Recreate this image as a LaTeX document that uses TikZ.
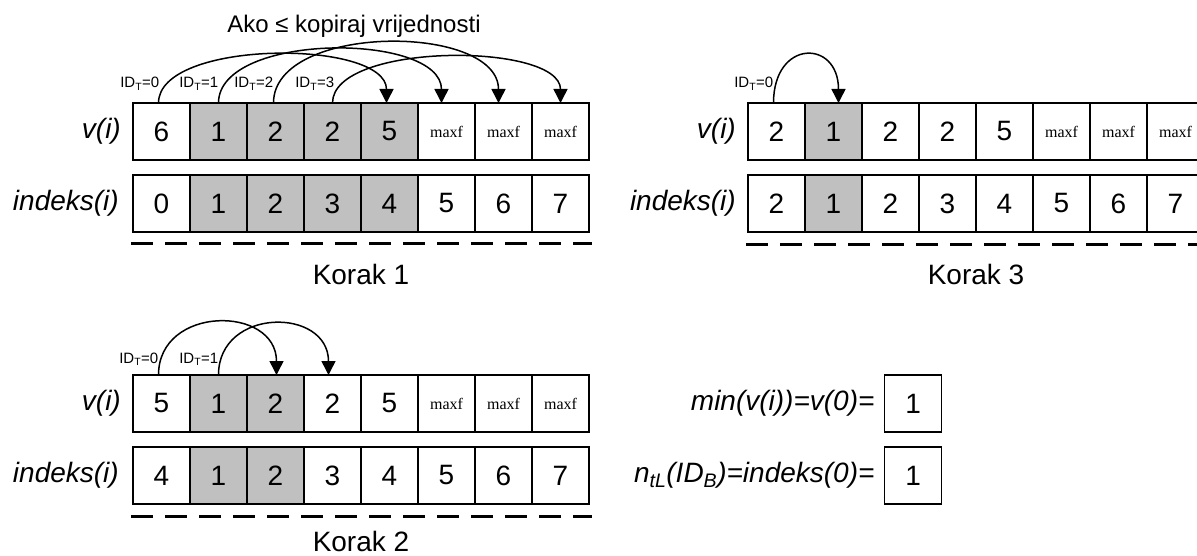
\documentclass[tikz,border=0pt]{standalone}
\usepackage{fontspec}
\setmainfont{Liberation Sans}
\newfontfamily\maxffont{Liberation Serif}
\usetikzlibrary{arrows.meta}
\definecolor{cellgray}{RGB}{192,192,192}
\newcommand\mf{{\maxffont\fontsize{16}{18}\selectfont maxf}}
\newcommand\cellrow[4]{%
  \foreach \s/\t [count=\k from 0] in {#4} {
    \node[\s] (#1\k) at ({#2+57*\k}, #3) {\t};
  }}
\begin{document}
\begin{tikzpicture}[x=1pt,y=-1pt,
  cell/.style={draw, line width=1.3pt, minimum width=57pt, minimum height=57pt,
    inner sep=0pt, outer sep=0pt, anchor=north west, font=\fontsize{28}{30}\selectfont},
  gcell/.style={cell, fill=cellgray},
  rowlab/.style={font=\fontsize{28}{30}\selectfont\itshape, inner sep=0pt, anchor=east},
  korak/.style={font=\fontsize{28}{30}\selectfont, inner sep=0pt, anchor=base},
  idlab/.style={font=\fontsize{15}{17}\selectfont, inner sep=0pt, anchor=base east},
  arcline/.style={line width=1.5pt, -{Triangle[width=14pt,length=14pt]}},
  dashline/.style={line width=3pt, dash pattern=on 22pt off 12pt}
]
\useasboundingbox (0,0) rectangle (1197,556);

% ---------- Korak 1 ----------
\cellrow{s1v}{133}{103}{cell/6,gcell/1,gcell/2,gcell/2,gcell/5,cell/\mf,cell/\mf,cell/\mf}
\cellrow{s1i}{133}{175}{cell/0,gcell/1,gcell/2,gcell/3,gcell/4,cell/5,cell/6,cell/7}
\node[rowlab] (s1vl) at ([xshift=-12pt]s1v0.west) {v(i)};
\node[rowlab] (s1il) at ([xshift=-14pt]s1i0.west) {indeks(i)};
\draw[dashline] ([shift={(-2,12)}]s1i0.south west) -- ([shift={(3,12)}]s1i7.south east);
\node[korak] (k1) at (361,284) {Korak 1};
\node[font=\fontsize{24}{26}\selectfont, inner sep=0pt, anchor=base] (title) at (354,33) {Ako ≤ kopiraj vrijednosti};

\draw[arcline] ([xshift=-3pt]s1v0.north) .. controls +(0,-64) and +(0,-64) .. ([xshift=-3pt]s1v4.north);
\draw[arcline] (s1v1.north) .. controls +(0,-71) and +(0,-71) .. ([xshift=-5pt]s1v5.north);
\draw[arcline] ([xshift=-2pt]s1v2.north) .. controls +(0,-80) and +(0,-80) .. ([xshift=-5pt]s1v6.north);
\draw[arcline] (s1v3.north) .. controls +(0,-61) and +(0,-61) .. (s1v7.north);
\node[idlab] (s1t0) at ([shift={(-2,-15)}]s1v0.north) {ID\textsubscript{T}=0};
\node[idlab] (s1t1) at ([shift={(0,-15)}]s1v1.north) {ID\textsubscript{T}=1};
\node[idlab] (s1t2) at ([shift={(-2,-15)}]s1v2.north) {ID\textsubscript{T}=2};
\node[idlab] (s1t3) at ([shift={(2,-15)}]s1v3.north) {ID\textsubscript{T}=3};

% ---------- Korak 3 ----------
\cellrow{s3v}{748}{103}{cell/2,gcell/1,cell/2,cell/2,cell/5,cell/\mf,cell/\mf,cell/\mf}
\cellrow{s3i}{748}{175}{cell/2,gcell/1,cell/2,cell/3,cell/4,cell/5,cell/6,cell/7}
\node[rowlab] (s3vl) at ([xshift=-12pt]s3v0.west) {v(i)};
\node[rowlab] (s3il) at ([xshift=-12pt]s3i0.west) {indeks(i)};
\draw[dashline] ([shift={(-2,13)}]s3i0.south west) -- ([shift={(8,13)}]s3i7.south east);
\node[korak] (k3) at (976,284) {Korak 3};
\draw[arcline] ([xshift=-3pt]s3v0.north) .. controls +(0,-64) and +(0,-64) .. ([xshift=5pt]s3v1.north);
\node[idlab] (s3t0) at ([shift={(-3,-15)}]s3v0.north) {ID\textsubscript{T}=0};

% ---------- Korak 2 ----------
\cellrow{s2v}{133}{375}{cell/5,gcell/1,gcell/2,cell/2,cell/5,cell/\mf,cell/\mf,cell/\mf}
\cellrow{s2i}{133}{447}{cell/4,gcell/1,gcell/2,cell/3,cell/4,cell/5,cell/6,cell/7}
\node[rowlab] (s2vl) at ([xshift=-12pt]s2v0.west) {v(i)};
\node[rowlab] (s2il) at ([xshift=-14pt]s2i0.west) {indeks(i)};
\draw[dashline] ([shift={(-2,12)}]s2i0.south west) -- ([shift={(3,12)}]s2i7.south east);
\node[korak] (k2) at (361,551) {Korak 2};
\draw[arcline] ([xshift=-3pt]s2v0.north) .. controls +(0,-70) and +(0,-70) .. ([xshift=1pt]s2v2.north);
\draw[arcline] (s2v1.north) .. controls +(0,-68) and +(0,-68) .. ([xshift=-4pt]s2v3.north);
\node[idlab] (s2t0) at ([shift={(-3,-12)}]s2v0.north) {ID\textsubscript{T}=0};
\node[idlab] (s2t1) at ([shift={(0,-12)}]s2v1.north) {ID\textsubscript{T}=1};

% ---------- Result ----------
\node[cell] (r1) at (884.7,375) {1};
\node[cell] (r2) at (884.7,447) {1};
\node[rowlab] (r1l) at ([xshift=-10pt]r1.west) {min(v(i))=v(0)=};
\node[rowlab] (r2l) at ([xshift=-10pt]r2.west) {n\textsubscript{tL}(ID\textsubscript{B})=indeks(0)=};
\end{tikzpicture}
\end{document}
